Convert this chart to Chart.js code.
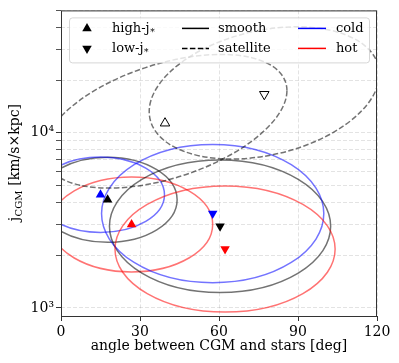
<!DOCTYPE html>
<html lang="en">
<head>
<meta charset="UTF-8">
<title>j_CGM vs misalignment angle</title>
<style>
  body { margin: 0; background: #fff; }
  #wrap { width: 399px; height: 363px; }
</style>
<script src="https://cdn.jsdelivr.net/npm/chart.js"></script>
</head>
<body>
<div id="wrap"><canvas id="graph" width="399" height="363"></canvas></div>
<script>
// marker groups, drawn in this order
const groups = ['cold', 'smooth', 'hot', 'satellite'];
const highJX = [15.0, 17.7, 26.8, 39.5];
const highJY = [4430, 4150, 3000, 11350];
const lowJX = [57.6, 60.4, 62.3, 77.2];
const lowJY = [3460, 2930, 2170, 16600];

// spread ellipses: centre + two half-axis vectors given as [deg, dex]
const ellGroup = ['smooth', 'cold', 'hot', 'smooth', 'cold', 'hot', 'satellite', 'satellite'];
const ellX = [17.7, 15.0, 26.8, 60.4, 57.6, 62.3, 39.5, 77.2];
const ellY = [4150, 4430, 3000, 2930, 3460, 2170, 11640, 16900];
const ellAxisA = [[26.4, 0], [24.3, 0], [30.8, 0], [42.0, 0], [42.2, 0], [41.8, 0], [46.3, 0.175], [43.7, 0.107]];
const ellAxisB = [[0, 0.243], [0, 0.215], [0, 0.271], [0, 0.378], [0, 0.395], [0, 0.36], [0, 0.339], [0, 0.362]];

const xTicks = [0, 30, 60, 90, 120];
const yTicks = [1000, 2000, 3000, 4000, 5000, 6000, 7000, 8000, 9000, 10000, 20000, 30000, 40000, 50000];

const FONT = "'DejaVu Serif', serif";
const markerColor = { cold: '#0000ff', smooth: '#000000', hot: '#ff0000', satellite: '#ffffff' };
const ringColor = { cold: 'rgba(0,0,255,0.55)', smooth: 'rgba(0,0,0,0.55)', hot: 'rgba(255,0,0,0.55)', satellite: 'rgba(0,0,0,0.55)' };
const gridColor = 'rgba(0,0,0,0.11)';

function pts(xs, ys) {
    return xs.map((x, i) => ({ x: x, y: ys[i] }));
}

const ellipsePlugin = {
    id: 'ellipses',
    beforeDatasetsDraw(chart) {
        const { ctx, chartArea: a, scales: { x, y } } = chart;
        ctx.save();
        ctx.beginPath();
        ctx.rect(a.left, a.top, a.right - a.left, a.bottom - a.top);
        ctx.clip();
        ctx.lineWidth = 1.5;
        ellX.forEach((cx, i) => {
            const cy = ellY[i];
            const px = x.getPixelForValue(cx), py = y.getPixelForValue(cy);
            const vec = (v) => [x.getPixelForValue(cx + v[0]) - px, y.getPixelForValue(cy * Math.pow(10, v[1])) - py];
            const A = vec(ellAxisA[i]), B = vec(ellAxisB[i]);
            ctx.save();
            ctx.beginPath();
            ctx.transform(A[0], A[1], B[0], B[1], px, py);
            ctx.arc(0, 0, 1, 0, 2 * Math.PI);
            ctx.restore();
            ctx.strokeStyle = ringColor[ellGroup[i]];
            ctx.setLineDash(ellGroup[i] === 'satellite' ? [5.5, 2.4] : []);
            ctx.stroke();
        });
        ctx.restore();
    }
};

function tri(ctx, x, y, r, down, fill, stroke) {
    ctx.save();
    ctx.beginPath();
    const s = down ? -1 : 1;
    ctx.moveTo(x, y - s * r);
    ctx.lineTo(x + r * 0.866, y + s * r * 0.5);
    ctx.lineTo(x - r * 0.866, y + s * r * 0.5);
    ctx.closePath();
    ctx.fillStyle = fill;
    ctx.fill();
    if (stroke) { ctx.strokeStyle = stroke; ctx.lineWidth = 1; ctx.stroke(); }
    ctx.restore();
}

const decorPlugin = {
    id: 'decor',
    afterDraw(chart) {
        const { ctx, chartArea: a } = chart;
        ctx.save();
        // frame
        ctx.strokeStyle = '#333';
        ctx.lineWidth = 1;
        ctx.strokeRect(a.left + 0.5, a.top + 0.5, a.right - a.left - 1, a.bottom - a.top);

        // legend
        const L = a.left + 8, T = a.top + 7, W = 300, H = 45;
        ctx.beginPath();
        ctx.roundRect(L + 0.5, T + 0.5, W, H, 3);
        ctx.fillStyle = 'rgba(255,255,255,0.8)';
        ctx.fill();
        ctx.strokeStyle = 'rgba(204,204,204,0.8)';
        ctx.stroke();

        const r1 = T + 11, r2 = T + 31;
        ctx.fillStyle = '#000';
        ctx.textBaseline = 'middle';
        ctx.textAlign = 'left';
        tri(ctx, L + 18, r1, 5.5, false, '#000');
        tri(ctx, L + 18, r2, 5.5, true, '#000');
        const jstar = (label, tx, ty) => {
            ctx.font = '13px ' + FONT;
            ctx.fillText(label, tx, ty);
            const w = ctx.measureText(label).width;
            ctx.font = '9px ' + FONT;
            ctx.fillText('*', tx + w + 0.5, ty + 4);
        };
        jstar('high-j', L + 43, r1);
        jstar('low-j', L + 43, r2);

        ctx.lineWidth = 1.5;
        const seg = (x0, x1, yy, col, dash) => {
            ctx.beginPath();
            ctx.setLineDash(dash);
            ctx.strokeStyle = col;
            ctx.moveTo(x0, yy);
            ctx.lineTo(x1, yy);
            ctx.stroke();
        };
        seg(L + 113, L + 140, r1, '#000', []);
        seg(L + 113, L + 140, r2, '#000', [5.5, 2.4]);
        seg(L + 229, L + 257, r1, '#0000ff', []);
        seg(L + 229, L + 257, r2, '#ff0000', []);
        ctx.setLineDash([]);
        ctx.font = '13px ' + FONT;
        ctx.fillStyle = '#000';
        ctx.fillText('smooth', L + 149, r1);
        ctx.fillText('satellite', L + 149, r2);
        ctx.fillText('cold', L + 267, r1);
        ctx.fillText('hot', L + 267, r2);

        // x title
        ctx.font = '14px ' + FONT;
        ctx.textAlign = 'center';
        ctx.fillText('angle between CGM and stars [deg]', (a.left + a.right) / 2, 346);

        // y title with subscript
        ctx.translate(15, (a.top + a.bottom) / 2);
        ctx.rotate(-Math.PI / 2);
        ctx.textAlign = 'left';
        const big = '14px ' + FONT, small = '10px ' + FONT;
        ctx.font = big;
        const w1 = ctx.measureText('j').width;
        const w3 = ctx.measureText(' [km/s\u00d7kpc]').width;
        ctx.font = small;
        const w2 = ctx.measureText('CGM').width;
        let x0 = -(w1 + w2 + w3) / 2;
        ctx.font = big;
        ctx.fillText('j', x0, 0);
        ctx.font = small;
        ctx.fillText('CGM', x0 + w1 + 0.5, 4);
        ctx.font = big;
        ctx.fillText(' [km/s\u00d7kpc]', x0 + w1 + w2 + 1, 0);
        ctx.restore();
    }
};

const ctx = document.getElementById('graph').getContext('2d');
new Chart(ctx, {
    type: 'scatter',
    data: {
        datasets: [
            {
                label: 'high-j',
                data: pts(highJX, highJY),
                pointStyle: 'triangle',
                pointRadius: 5.5,
                pointBackgroundColor: groups.map(g => markerColor[g]),
                pointBorderColor: groups.map(g => g === 'satellite' ? '#000' : markerColor[g]),
                pointBorderWidth: groups.map(g => g === 'satellite' ? 1 : 0)
            },
            {
                label: 'low-j',
                data: pts(lowJX, lowJY),
                pointStyle: 'triangle',
                pointRotation: 180,
                pointRadius: 5.5,
                pointBackgroundColor: groups.map(g => markerColor[g]),
                pointBorderColor: groups.map(g => g === 'satellite' ? '#000' : markerColor[g]),
                pointBorderWidth: groups.map(g => g === 'satellite' ? 1 : 0)
            }
        ]
    },
    options: {
        responsive: false,
        animation: false,
        layout: { padding: { top: 7, right: 22, left: 0, bottom: 0 } },
        plugins: {
            legend: { display: false },
            tooltip: { enabled: false }
        },
        scales: {
            x: {
                type: 'linear',
                min: 0,
                max: 120,
                afterBuildTicks: s => { s.ticks = xTicks.map(v => ({ value: v })); },
                afterFit: s => { s.height = 47; },
                grid: { color: gridColor, tickLength: 5, tickColor: '#333' },
                border: { display: false, dash: [4, 2] },
                ticks: { color: '#000', font: { family: FONT, size: 14 }, padding: 3, maxRotation: 0, autoSkip: false }
            },
            y: {
                type: 'logarithmic',
                min: 900,
                max: 50000,
                afterBuildTicks: s => { s.ticks = yTicks.map(v => ({ value: v })); },
                afterFit: s => { s.width = 61; },
                grid: {
                    color: gridColor,
                    tickLength: 5,
                    tickColor: c => (c.tick && (c.tick.value === 1000 || c.tick.value === 10000)) ? '#333' : '#555'
                },
                border: { display: false, dash: [4, 2] },
                ticks: {
                    color: '#000',
                    font: { family: FONT, size: 14 },
                    padding: 2,
                    autoSkip: false,
                    callback: v => v === 1000 ? '10\u00b3' : (v === 10000 ? '10\u2074' : '')
                }
            }
        }
    },
    plugins: [ellipsePlugin, decorPlugin]
});
</script>
</body>
</html>
